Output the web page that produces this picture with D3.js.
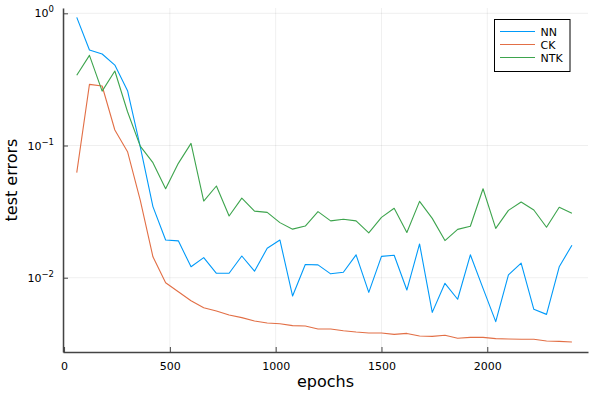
<!DOCTYPE html>
<html>
<head>
<meta charset="utf-8">
<script src="https://cdn.jsdelivr.net/npm/d3@7"></script>
<style>
  body { margin: 0; background: #fff; }
  svg { display: block; font-family: "DejaVu Sans", sans-serif; }
</style>
</head>
<body>
<svg id="chart" width="594" height="393"></svg>
<script>
var epochs = [60, 120, 180, 240, 300, 360, 420, 480, 540, 600,
    660, 720, 780, 840, 900, 960, 1020, 1080, 1140, 1200,
    1260, 1320, 1380, 1440, 1500, 1560, 1620, 1680, 1740, 1800,
    1860, 1920, 1980, 2040, 2100, 2160, 2220, 2280, 2340, 2400]

var nn = [0.932, 0.528, 0.492, 0.406, 0.260, 0.098, 0.0345, 0.0193, 0.0190, 0.0121,
    0.0142, 0.0108, 0.0108, 0.0146, 0.0112, 0.0167, 0.0193, 0.00727, 0.0126, 0.0125,
    0.0107, 0.0110, 0.0149, 0.00775, 0.0145, 0.0148, 0.00807, 0.0180, 0.00547, 0.00907,
    0.00687, 0.0149, 0.00831, 0.00465, 0.0105, 0.0129, 0.00577, 0.00528, 0.0121, 0.0176]

var ck = [0.0623, 0.290, 0.282, 0.131, 0.0898, 0.0387, 0.0144, 0.00917, 0.00784, 0.00670,
    0.00593, 0.00560, 0.00522, 0.00499, 0.00470, 0.00454, 0.00449, 0.00434, 0.00431, 0.00409,
    0.00409, 0.00397, 0.00388, 0.00382, 0.00382, 0.00373, 0.00379, 0.00362, 0.00360, 0.00367,
    0.00348, 0.00354, 0.00354, 0.00346, 0.00344, 0.00342, 0.00342, 0.00332, 0.00330, 0.00326]

var ntk = [0.340, 0.481, 0.258, 0.366, 0.180, 0.099, 0.0742, 0.0471, 0.0733, 0.1038,
    0.0380, 0.0494, 0.0293, 0.0400, 0.0319, 0.0312, 0.0261, 0.0233, 0.0246, 0.0316,
    0.0269, 0.0277, 0.0269, 0.0218, 0.0286, 0.0335, 0.0220, 0.0378, 0.0281, 0.0191,
    0.0232, 0.0245, 0.0471, 0.0236, 0.0323, 0.0374, 0.0325, 0.0241, 0.0341, 0.0307]

var seriesNames = ["NN", "CK", "NTK"]
var seriesColors = ["#009af9", "#e26f46", "#3da44d"]
var xTicks = [0, 500, 1000, 1500, 2000]
var yTicks = [1, 0.1, 0.01]
var yTickExp = ["0", "\u22121", "\u22122"]

var draw = () => {
    var svg = d3.select("#chart")
    var m = {left: 63, right: 588, top: 8, bottom: 352}

    var x = d3.scaleLinear().domain([-5, 2476]).range([m.left, m.right])
    var y = d3.scaleLog().domain([0.002742, 1.097]).range([m.bottom, m.top])

    // grid
    var grid = svg.append("g").attr("stroke", "#000").attr("stroke-opacity", 0.09).attr("stroke-width", 0.7)
    grid.selectAll(".gx").data(xTicks).enter().append("line")
        .attr("x1", d => x(d)).attr("x2", d => x(d))
        .attr("y1", m.top).attr("y2", m.bottom)
    grid.selectAll(".gy").data(yTicks).enter().append("line")
        .attr("x1", m.left).attr("x2", m.right)
        .attr("y1", d => y(d)).attr("y2", d => y(d))

    // series
    var allSeries = [nn, ck, ntk]
    var line = d3.line()
        .x((d, i) => x(epochs[i]))
        .y(d => y(d))

    svg.append("g").selectAll("path")
        .data(allSeries)
        .enter().append("path")
        .attr("d", line)
        .attr("fill", "none")
        .attr("stroke", (d, i) => seriesColors[i])
        .attr("stroke-width", 1.1)
        .attr("stroke-linejoin", "round")

    // axes
    var xAxis = d3.axisBottom(x).tickValues(xTicks).tickSizeInner(-5).tickSizeOuter(0)
        .tickPadding(10).tickFormat(d3.format("d"))
    var gx = svg.append("g").attr("transform", "translate(0," + m.bottom + ")").call(xAxis)
    gx.select(".domain").attr("stroke", "#444").attr("stroke-width", 1.5)
    gx.selectAll(".tick line").attr("stroke", "#444").attr("stroke-width", 1)
    gx.selectAll(".tick text").attr("font-size", 11).attr("font-family", "DejaVu Sans").attr("fill", "#000")

    var yAxis = d3.axisLeft(y).tickValues(yTicks).tickSizeInner(-5).tickSizeOuter(0).tickFormat(() => "")
    var gy = svg.append("g").attr("transform", "translate(" + m.left + ",0)").call(yAxis)
    gy.select(".domain").attr("stroke", "#444").attr("stroke-width", 1.5)
    gy.selectAll(".tick line").attr("stroke", "#444").attr("stroke-width", 1)

    var yl = svg.append("g").selectAll("text")
        .data(yTicks).enter().append("text")
        .attr("x", 54)
        .attr("y", d => y(d) + 4)
        .attr("text-anchor", "end")
        .attr("font-size", 11)
    yl.append("tspan").text("10")
    yl.append("tspan").attr("dy", -5).attr("font-size", 8.5).text((d, i) => yTickExp[i])

    // axis labels
    svg.append("text")
        .attr("x", (m.left + m.right) / 2)
        .attr("y", 387)
        .attr("text-anchor", "middle")
        .attr("font-size", 16)
        .text("epochs")

    svg.append("text")
        .attr("transform", "translate(16.5," + (m.top + m.bottom) / 2 + ") rotate(-90)")
        .attr("text-anchor", "middle")
        .attr("font-size", 16)
        .text("test errors")

    // legend
    var legend = svg.append("g")
    legend.append("rect")
        .attr("x", 494.5).attr("y", 19.5).attr("width", 75.5).attr("height", 52)
        .attr("fill", "#fff").attr("stroke", "#000").attr("stroke-width", 1)
    var item = legend.selectAll(".item").data(seriesNames).enter().append("g")
        .attr("transform", (d, i) => "translate(0," + (31.5 + i * 13) + ")")
    item.append("line")
        .attr("x1", 500).attr("x2", 535)
        .attr("stroke", (d, i) => seriesColors[i]).attr("stroke-width", 1.1)
    item.append("text")
        .attr("x", 540.5).attr("y", 4)
        .attr("font-size", 11)
        .text(d => d)
}

draw()
</script>
</body>
</html>
